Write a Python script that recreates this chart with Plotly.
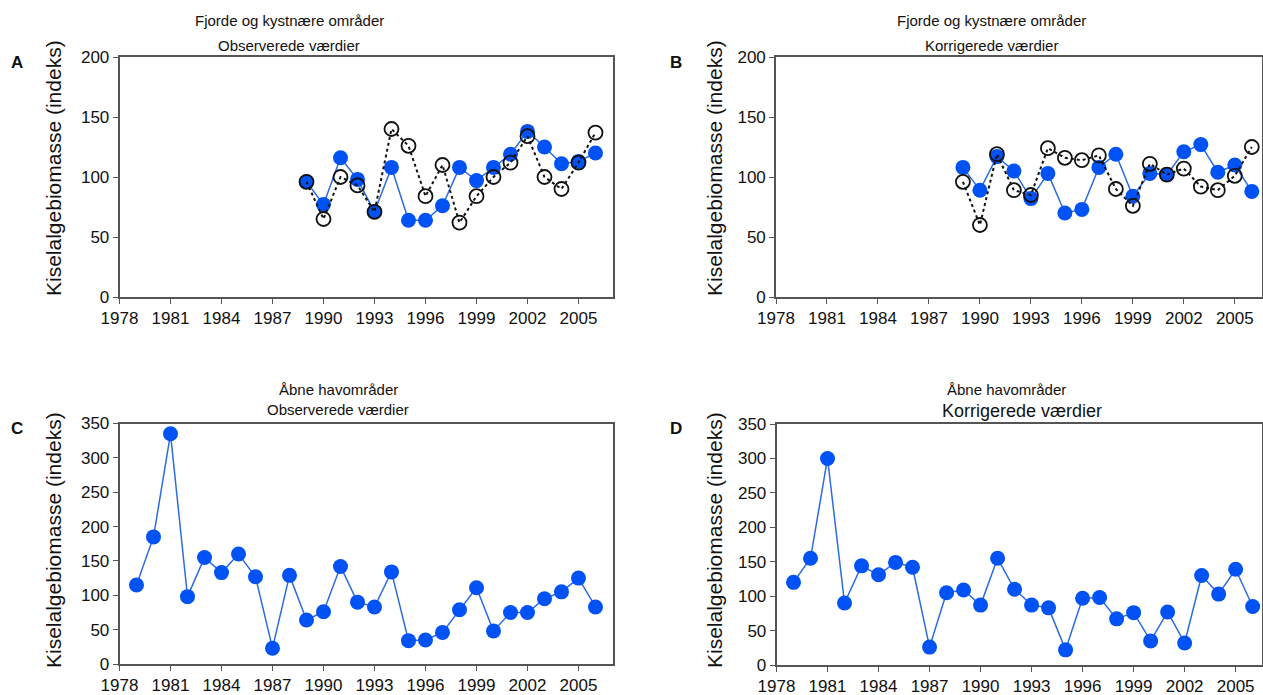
import plotly.graph_objects as go

# ---------------- data ----------------
years_fj = list(range(1989, 2007))
fj_obs_blue = [96, 77, 116, 98, 71, 108, 64, 64, 76, 108, 97, 108, 119, 138, 125, 111, 113, 120]
fj_obs_open = [96, 65, 100, 93, 71, 140, 126, 84, 110, 62, 84, 100, 112, 134, 100, 90, 112, 137]

fj_kor_blue = [108, 89, 117, 105, 82, 103, 70, 73, 108, 119, 84, 103, 102, 121, 127, 104, 110, 88]
fj_kor_open = [96, 60, 119, 89, 85, 124, 116, 114, 118, 90, 76, 111, 102, 107, 92, 89, 101, 125]

years_hav = list(range(1979, 2007))
hav_obs = [115, 185, 335, 98, 155, 133, 160, 127, 23, 129, 64, 76, 142, 90, 83, 134,
           34, 35, 46, 79, 111, 48, 75, 75, 95, 105, 125, 83]
hav_kor = [120, 155, 300, 90, 144, 131, 149, 142, 26, 105, 109, 87, 155, 110, 87, 83,
           22, 97, 98, 67, 76, 35, 77, 32, 130, 103, 139, 85]

xtick_vals = list(range(1978, 2006, 3))
xtick_text = [str(v) for v in xtick_vals]

W, H = 1263, 695
FONT = "Liberation Sans, Arial, sans-serif"
BLUE_M = "#0052f5"
BLUE_L = "#2d6be0"
AX = "#555555"


def px_x(p):
    return p / W


def px_y(p):
    return 1 - p / H


fig = go.Figure()

panels = [
    # (xaxis id, yaxis id, x px domain, y px domain, x range, y range, dtick)
    ("x", "y", (119.5, 613), (57, 297), [1978, 2007.03], [0, 200], 50),
    ("x2", "y2", (776, 1262), (57, 297), [1978, 2006.6], [0, 200], 50),
    ("x3", "y3", (119.5, 613), (423.5, 664), [1978, 2007.03], [0, 350], 50),
    ("x4", "y4", (776.5, 1262), (424, 665), [1978, 2006.55], [0, 350], 50),
]


def add_blue(xa, ya, xs, ys):
    fig.add_trace(go.Scatter(
        x=xs, y=ys, xaxis=xa, yaxis=ya, mode="lines+markers",
        line=dict(color=BLUE_L, width=1.5),
        marker=dict(color=BLUE_M, size=15, line=dict(width=0)),
        showlegend=False, hoverinfo="skip"))


def add_open(xa, ya, xs, ys):
    fig.add_trace(go.Scatter(
        x=xs, y=ys, xaxis=xa, yaxis=ya, mode="lines+markers",
        line=dict(color="#111111", width=2, dash="dot"),
        marker=dict(symbol="circle-open", color="#111111", size=14,
                    line=dict(width=1.8)),
        showlegend=False, hoverinfo="skip"))


add_blue("x", "y", years_fj, fj_obs_blue)
add_open("x", "y", years_fj, fj_obs_open)
add_blue("x2", "y2", years_fj, fj_kor_blue)
add_open("x2", "y2", years_fj, fj_kor_open)
add_blue("x3", "y3", years_hav, hav_obs)
add_blue("x4", "y4", years_hav, hav_kor)

layout = dict(
    template="none",
    width=W, height=H,
    margin=dict(l=0, r=0, t=0, b=0, pad=0),
    paper_bgcolor="white", plot_bgcolor="white",
    font=dict(family=FONT, color="#111111"),
    showlegend=False,
)

for i, (xa, ya, xd, yd, xr, yr, dt) in enumerate(panels):
    xname = "xaxis" + ("" if i == 0 else str(i + 1))
    yname = "yaxis" + ("" if i == 0 else str(i + 1))
    layout[xname] = dict(
        domain=[px_x(xd[0]), px_x(xd[1])], range=xr, anchor=ya,
        automargin=False,
        tickmode="array", tickvals=xtick_vals, ticktext=xtick_text,
        ticks="outside", ticklen=5, tickwidth=1.3, tickcolor=AX,
        showline=True, linecolor=AX, linewidth=1.6, mirror=True,
        showgrid=False, zeroline=False,
        tickfont=dict(family=FONT, size=17, color="#111111"),
    )
    layout[yname] = dict(
        domain=[px_y(yd[1]), px_y(yd[0])], range=yr, anchor=xa,
        automargin=False,
        tickmode="linear", tick0=0, dtick=dt,
        ticks="outside", ticklen=5, tickwidth=1.3, tickcolor=AX,
        showline=True, linecolor=AX, linewidth=1.6, mirror=True,
        showgrid=False, zeroline=False,
        tickfont=dict(family=FONT, size=17, color="#111111"),
    )

fig.update_layout(**layout)

annotations = []


def text_at(x, y, s, size, bold=False, angle=0):
    annotations.append(dict(
        x=px_x(x), y=px_y(y), xref="paper", yref="paper",
        text=("<b>%s</b>" % s) if bold else s, showarrow=False,
        xanchor="center", yanchor="middle", textangle=angle,
        font=dict(family=FONT, size=size, color="#111111")))


# Titles
text_at(289, 21, "Fjorde og kystnære områder", 15)
text_at(289, 46, "Observerede værdier", 15)
text_at(991, 21, "Fjorde og kystnære områder", 15)
text_at(991, 46, "Korrigerede værdier", 15)
text_at(338, 389, "Åbne havområder", 15)
text_at(338, 409, "Observerede værdier", 15)
text_at(1007, 389, "Åbne havområder", 15)
text_at(1022, 411, "Korrigerede værdier", 18)

# Panel letters
text_at(17, 62, "A", 17, bold=True)
text_at(676, 62, "B", 17, bold=True)
text_at(17, 428, "C", 17, bold=True)
text_at(676, 428, "D", 17, bold=True)

# Y axis titles
ytitle = "Kiselalgebiomasse (indeks)"
text_at(53, 168, ytitle, 21, angle=-90)
text_at(714, 168, ytitle, 21, angle=-90)
text_at(53, 540, ytitle, 21, angle=-90)
text_at(714, 540, ytitle, 21, angle=-90)

fig.update_layout(annotations=annotations)

fig.write_html("out.html")
